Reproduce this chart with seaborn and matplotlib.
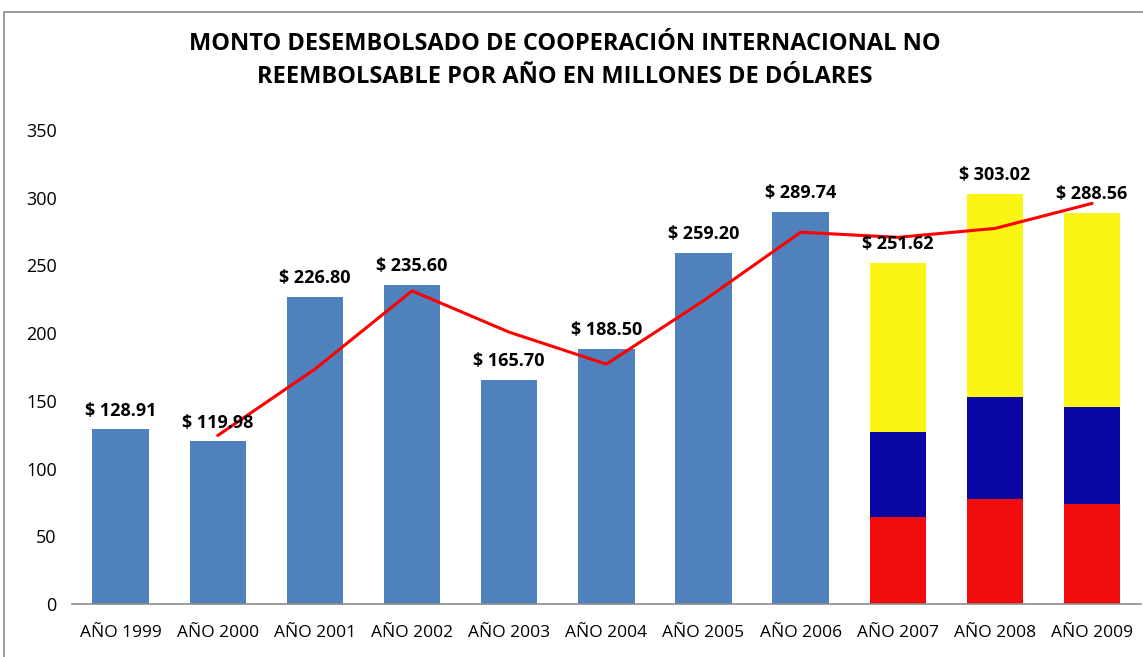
import matplotlib
matplotlib.use("Agg")
import matplotlib.pyplot as plt
import seaborn as sns
import pandas as pd
from matplotlib.patches import Rectangle

categories = ["AÑO 1999", "AÑO 2000", "AÑO 2001", "AÑO 2002", "AÑO 2003", "AÑO 2004",
              "AÑO 2005", "AÑO 2006", "AÑO 2007", "AÑO 2008", "AÑO 2009"]
single_years = categories[:8]
single_values = [128.91, 119.98, 226.80, 235.60, 165.70, 188.50, 259.20, 289.74]
stack_years = categories[8:]
stack_red = [64.5, 77.3, 73.6]
stack_blue = [62.8, 75.8, 72.1]
stack_total = [251.62, 303.02, 288.56]
trend_years = categories[1:]
trend_values = [124.4, 173.4, 231.2, 200.7, 177.1, 223.9, 274.5, 270.7, 277.3, 295.8]

sns.set_theme(style="white")
plt.rcParams["font.family"] = ["Open Sans", "DejaVu Sans"]
plt.rcParams["text.color"] = "#000000"

fig = plt.figure(figsize=(11.43, 6.57), dpi=100)
ax = fig.add_axes([0.063, 0.0807, 0.935, 0.7215])

bar_kw = dict(order=categories, saturation=1, width=0.58, linewidth=0, ax=ax)
df1 = pd.DataFrame({"cat": single_years, "val": single_values})
sns.barplot(data=df1, x="cat", y="val", color="#4F81BD", **bar_kw)

df_tot = pd.DataFrame({"cat": stack_years, "val": stack_total})
df_rb = pd.DataFrame({"cat": stack_years, "val": [r + b for r, b in zip(stack_red, stack_blue)]})
df_r = pd.DataFrame({"cat": stack_years, "val": stack_red})
sns.barplot(data=df_tot, x="cat", y="val", color="#FAF514", **bar_kw)
sns.barplot(data=df_rb, x="cat", y="val", color="#0A06A3", **bar_kw)
sns.barplot(data=df_r, x="cat", y="val", color="#F20D0D", **bar_kw)

pos = {c: i for i, c in enumerate(categories)}
df_tr = pd.DataFrame({"x": [pos[c] for c in trend_years], "y": trend_values})
sns.lineplot(data=df_tr, x="x", y="y", color="#FF0000", linewidth=2.2, ax=ax)

all_vals = single_values + stack_total
for c, v in zip(categories, all_vals):
    ax.annotate(f"$ {v:.2f}", (pos[c], v), xytext=(0, 7), textcoords="offset points",
                ha="center", va="bottom", fontsize=13, fontweight="bold", color="#000000")

ax.set_xlim(-0.5, len(categories) - 0.5)
ax.set_ylim(0, 350)
ax.set_yticks(range(0, 351, 50))
ax.set_xlabel("")
ax.set_ylabel("")
ax.tick_params(axis="both", length=0, colors="#000000")
ax.tick_params(axis="x", pad=15, labelsize=12.5)
ax.tick_params(axis="y", pad=11, labelsize=13)
for s in ["top", "right", "left"]:
    ax.spines[s].set_visible(False)
ax.spines["bottom"].set_color("#8C8C8C")
ax.spines["bottom"].set_linewidth(1.2)

fig.text(0.494, 0.908, "MONTO DESEMBOLSADO DE COOPERACIÓN INTERNACIONAL NO\nREEMBOLSABLE POR AÑO EN MILLONES DE DÓLARES",
         ha="center", va="center", fontsize=17, fontweight="bold", linespacing=1.5,
         color="#000000", family=["Open Sans", "DejaVu Sans"])

fig.patches.append(Rectangle((4 / 1143, -0.05), 1.2, (657 - 12) / 657 + 0.05, transform=fig.transFigure,
                             fill=False, edgecolor="#8C8C8C", linewidth=1.2))

fig.savefig("out.png", dpi=100)
